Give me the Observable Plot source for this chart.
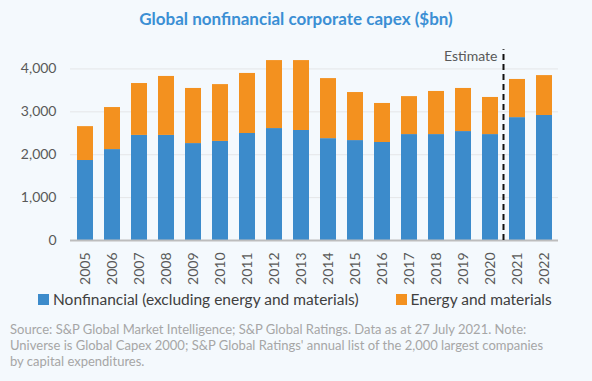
<!DOCTYPE html>
<html>
<head>
<meta charset="utf-8">
<script src="https://cdn.jsdelivr.net/npm/d3@7"></script>
<script src="https://cdn.jsdelivr.net/npm/@observablehq/plot@0.6"></script>
<style>
  html, body { margin: 0; padding: 0; background: #f4f9fd; width: 592px; height: 381px; overflow: hidden; font-family: Lato, "Open Sans", sans-serif; }
  #title { height: 38px; line-height: 38px; text-align: center; color: #3b8fd4; font-weight: bold; font-size: 17px; }
  #legend { height: 22px; display: flex; align-items: center; font-size: 15.5px; color: #404040; padding-left: 38px; }
  .sw { display: inline-block; width: 11px; height: 11px; margin-right: 4px; }
  .item { display: flex; align-items: center; }
  #source { margin-top: 11px; padding-left: 10px; font-size: 13px; line-height: 16px; color: #a6a6a6; }
</style>
</head>
<body>
<div id="title">Global nonfinancial corporate capex ($bn)</div>
<div id="chart"></div>
<div id="legend"></div>
<div id="source">Source: S&amp;P Global Market Intelligence; S&amp;P Global Ratings. Data as at 27 July 2021. Note:<br>Universe is Global Capex 2000; S&amp;P Global Ratings' annual list of the 2,000 largest companies<br>by capital expenditures.</div>
<script>
const years = ["2005","2006","2007","2008","2009","2010","2011","2012","2013","2014","2015","2016","2017","2018","2019","2020","2021","2022"];
const nonfinancial = [1865, 2120, 2450, 2450, 2260, 2310, 2495, 2610, 2565, 2375, 2330, 2285, 2470, 2470, 2540, 2470, 2865, 2915];
const energy = [790, 980, 1210, 1375, 1285, 1325, 1400, 1585, 1630, 1400, 1120, 910, 885, 1005, 1005, 865, 890, 930];
const seriesNames = ["Nonfinancial (excluding energy and materials)", "Energy and materials"];
const seriesColors = ["#3c8bcb", "#f3911f"];
const yTicks = [0, 1000, 2000, 3000, 4000];
const estimateYear = "2021";

const data = [];
years.forEach((y, i) => {
  data.push({year: y, series: seriesNames[0], value: nonfinancial[i]});
  data.push({year: y, series: seriesNames[1], value: energy[i]});
});

const chart = Plot.plot({
  width: 592,
  height: 250,
  marginLeft: 70,
  marginRight: 34,
  marginTop: 9,
  marginBottom: 48,
  style: {background: "transparent", fontFamily: "Lato, 'Open Sans', sans-serif", fontSize: "14px", color: "#595959"},
  x: {domain: years, paddingInner: 0.41, paddingOuter: 0.2, label: null},
  y: {domain: [0, 4500], label: null},
  color: {domain: seriesNames, range: seriesColors},
  marks: [
    Plot.gridY(yTicks, {stroke: "#e4e6e8", strokeOpacity: 1, strokeWidth: 1}),
    Plot.barY(data, {x: "year", y: "value", fill: "series"}),
    Plot.ruleY([0], {stroke: "#bdbdbd", strokeWidth: 2}),
    Plot.ruleX([estimateYear], {x: d => d, y1: 0, y2: 4450, dx: -14, stroke: "#111", strokeWidth: 2, strokeDasharray: "6,4"}),
    Plot.text([estimateYear], {x: d => d, y: 4290, text: () => "Estimate", dx: -20, textAnchor: "end", fill: "#595959", fontSize: 14}),
    Plot.axisY(yTicks, {tickSize: 0, tickPadding: 14, tickFormat: d3.format(","), fontSize: 14, fill: "#595959"}),
    Plot.axisX({tickSize: 0, tickPadding: 12, tickRotate: -90, fontSize: 14, fill: "#595959"})
  ]
});
document.getElementById("chart").appendChild(chart);

const legend = document.getElementById("legend");
seriesNames.forEach((name, i) => {
  const item = document.createElement("span");
  item.className = "item";
  item.style.marginRight = i === 0 ? "37px" : "0";
  const sw = document.createElement("span");
  sw.className = "sw";
  sw.style.background = seriesColors[i];
  item.appendChild(sw);
  item.appendChild(document.createTextNode(name));
  legend.appendChild(item);
});
</script>
</body>
</html>
